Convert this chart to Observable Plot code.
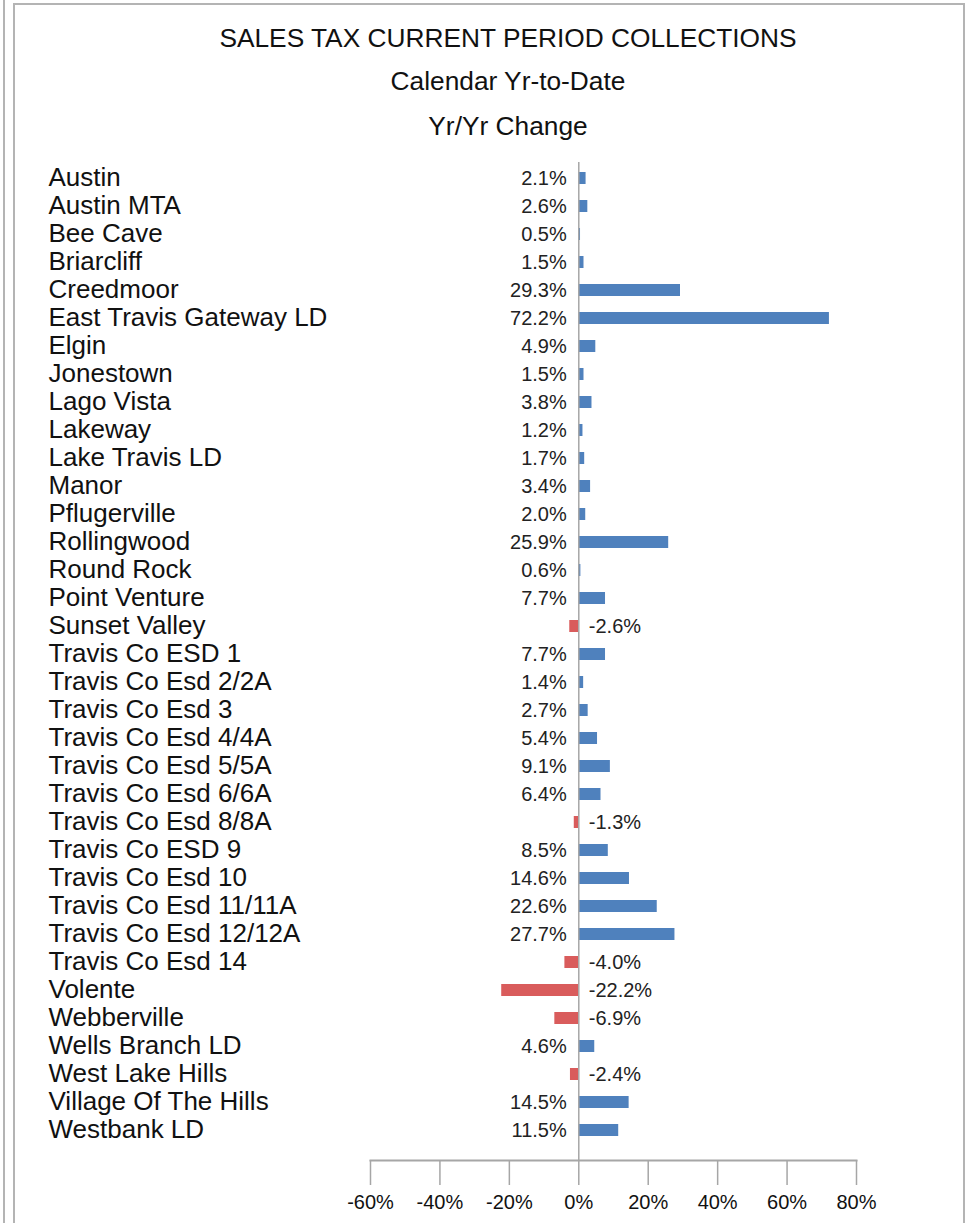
<!DOCTYPE html>
<html>
<head>
<meta charset="utf-8">
<script src="https://cdn.jsdelivr.net/npm/d3@7"></script>
<script src="https://cdn.jsdelivr.net/npm/@observablehq/plot@0.6"></script>
<style>
  html, body { margin: 0; padding: 0; background: white; }
  #wrap { position: relative; width: 975px; height: 1223px; overflow: hidden; font-family: "Liberation Sans", Arial, sans-serif; }
  #chart { position: absolute; left: 0; top: 0; }
  .ttl { position: absolute; left: 208px; width: 600px; text-align: center; font-size: 26.3px; line-height: 30px; color: #111; white-space: nowrap; }
  .line { position: absolute; background: #b4b4b4; }
</style>
</head>
<body>
<div id="wrap">
  <div id="chart"></div>
  <div class="ttl" style="top:23px">SALES TAX CURRENT PERIOD COLLECTIONS</div>
  <div class="ttl" style="top:66px">Calendar Yr-to-Date</div>
  <div class="ttl" style="top:111px">Yr/Yr Change</div>
  <div class="line" style="left:3px;top:0;width:2px;height:1223px"></div>
  <div class="line" style="left:13px;top:3px;width:2px;height:1220px"></div>
  <div class="line" style="left:13px;top:3px;width:952px;height:2px"></div>
  <div class="line" style="left:963px;top:3px;width:2px;height:1220px"></div>
</div>
<script>
const names = [
  "Austin", "Austin MTA", "Bee Cave", "Briarcliff", "Creedmoor", "East Travis Gateway LD",
  "Elgin", "Jonestown", "Lago Vista", "Lakeway", "Lake Travis LD", "Manor", "Pflugerville",
  "Rollingwood", "Round Rock", "Point Venture", "Sunset Valley", "Travis Co ESD 1",
  "Travis Co Esd 2/2A", "Travis Co Esd 3", "Travis Co Esd 4/4A", "Travis Co Esd 5/5A",
  "Travis Co Esd 6/6A", "Travis Co Esd 8/8A", "Travis Co ESD 9", "Travis Co Esd 10",
  "Travis Co Esd 11/11A", "Travis Co Esd 12/12A", "Travis Co Esd 14", "Volente",
  "Webberville", "Wells Branch LD", "West Lake Hills", "Village Of The Hills", "Westbank LD"
];
const changes = [
  2.1, 2.6, 0.5, 1.5, 29.3, 72.2,
  4.9, 1.5, 3.8, 1.2, 1.7, 3.4, 2.0,
  25.9, 0.6, 7.7, -2.6, 7.7,
  1.4, 2.7, 5.4, 9.1,
  6.4, -1.3, 8.5, 14.6,
  22.6, 27.7, -4.0, -22.2,
  -6.9, 4.6, -2.4, 14.5, 11.5
];
const xTicks = [-0.6, -0.4, -0.2, 0, 0.2, 0.4, 0.6, 0.8];

const data = names.map((name, i) => ({name, value: changes[i] / 100}));
const pct1 = v => (v * 100).toFixed(1) + "%";
const pct0 = v => Math.round(v * 100) + "%";

const chart = Plot.plot({
  width: 975,
  height: 1223,
  marginLeft: 370,
  marginRight: 119,
  marginTop: 162,
  marginBottom: 63,
  style: {fontFamily: "Liberation Sans, Arial, sans-serif", background: "transparent", color: "#111"},
  x: {domain: [-0.6, 0.8], axis: null, label: null},
  y: {domain: names, range: [162, 1145], paddingInner: 0.573, paddingOuter: 0.2865, axis: null, label: null},
  marks: [
    Plot.barX(data, {x: "value", y: "name", fill: d => d.value < 0 ? "#D95C5C" : "#4F81BD"}),
    Plot.ruleX([0], {stroke: "#a6a6a6", strokeWidth: 1.5}),
    Plot.frame({anchor: "bottom", stroke: "#a6a6a6", strokeWidth: 2}),
    Plot.axisX({ticks: xTicks, tickFormat: pct0, tickSize: 25, tickPadding: 9, fontSize: 20,
                label: null, stroke: "#a6a6a6", strokeWidth: 1.5, fill: "#111"}),
    Plot.text(names, {y: d => d, text: d => d, frameAnchor: "left", dx: -322, dy: -1,
                      textAnchor: "start", fontSize: 26, fill: "#111"}),
    Plot.text(data.filter(d => d.value >= 0), {x: 0, y: "name", text: d => pct1(d.value),
                      dx: -12, textAnchor: "end", fontSize: 20, fill: "#222"}),
    Plot.text(data.filter(d => d.value < 0), {x: 0, y: "name", text: d => pct1(d.value),
                      dx: 10, textAnchor: "start", fontSize: 20, fill: "#222"})
  ]
});
document.getElementById("chart").appendChild(chart);
</script>
</body>
</html>
